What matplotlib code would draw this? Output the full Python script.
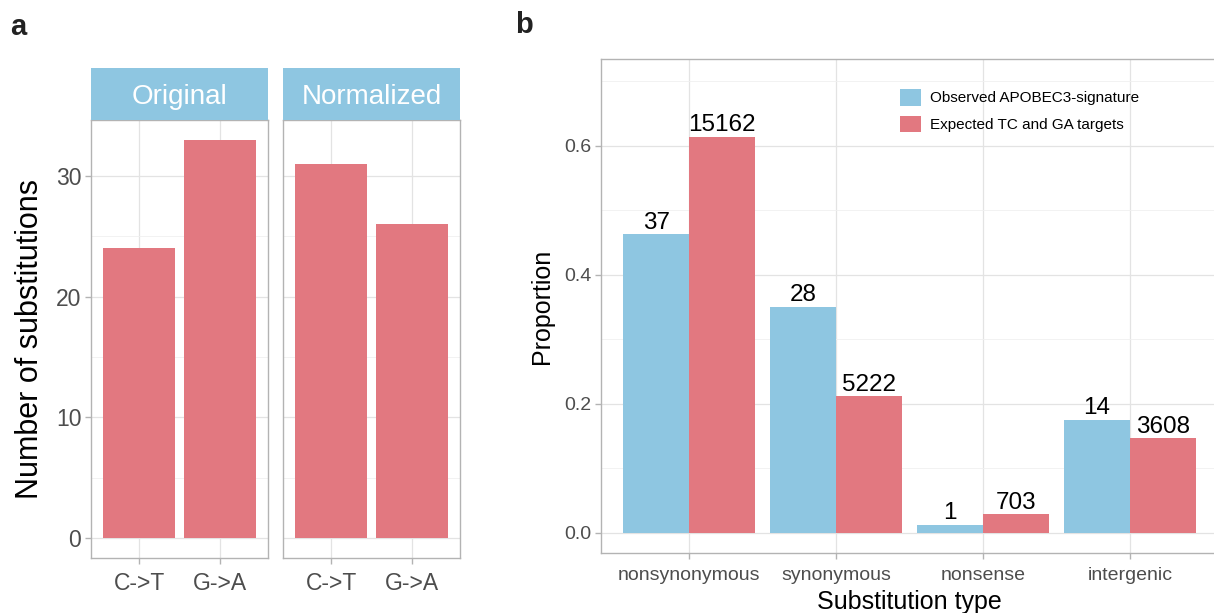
import matplotlib
matplotlib.use("Agg")
import matplotlib.pyplot as plt
from matplotlib.patches import Patch
import numpy as np

plt.rcParams['font.family'] = ['Liberation Sans', 'DejaVu Sans']

# panel a data
facets = ["Original", "Normalized"]
subst = ["C->T", "G->A"]
counts_a = {"Original": [24, 33], "Normalized": [31, 26]}

# panel b data
sub_types = ["nonsynonymous", "synonymous", "nonsense", "intergenic"]
observed_n = [37, 28, 1, 14]
expected_n = [15162, 5222, 703, 3608]
observed_p = np.array(observed_n) / sum(observed_n)
expected_p = np.array(expected_n) / sum(expected_n)
legend_labels = ["Observed APOBEC3-signature", "Expected TC and GA targets"]

BLUE = "#8EC6E1"
RED = "#E27880"
GRID = "#E3E3E3"
GRID_MINOR = "#F0F0F0"
BORDER = "#B3B3B3"
TICKTXT = "#4D4D4D"

W, H = 1214, 613
fig = plt.figure(figsize=(W / 100, H / 100), dpi=100)


def box(x0, y0, x1, y1):
    return [x0 / W, 1 - y1 / H, (x1 - x0) / W, (y1 - y0) / H]


def style(ax, tick_size):
    for s in ax.spines.values():
        s.set_color(BORDER)
        s.set_linewidth(1.0)
    ax.set_axisbelow(True)
    ax.grid(which="major", color=GRID, linewidth=0.9)
    ax.grid(which="minor", axis="y", color=GRID_MINOR, linewidth=0.6)
    ax.tick_params(which="major", color=BORDER, length=4, width=1,
                   labelsize=tick_size, labelcolor=TICKTXT, pad=3)
    ax.tick_params(which="minor", length=0)


# ---- panel a ----
panel_x = [(91, 268), (283, 460)]
for i, name in enumerate(facets):
    x0, x1 = panel_x[i]
    ax = fig.add_axes(box(x0, 120, x1, 557.7))
    xs = np.arange(1, len(subst) + 1)
    ax.bar(xs, counts_a[name], width=0.9, color=RED)
    ax.set_xlim(0.4, 2.6)
    ax.set_ylim(-1.65, 34.65)
    ax.set_xticks(xs)
    ax.set_xticklabels(subst)
    ax.set_yticks([0, 10, 20, 30])
    ax.set_yticks([5, 15, 25], minor=True)
    style(ax, 16.5)
    ax.tick_params(axis="x", pad=6)
    if i == 0:
        ax.set_ylabel("Number of substitutions", fontsize=22, labelpad=8)
    else:
        ax.tick_params(axis="y", length=0, labelleft=False)
    sx = fig.add_axes(box(x0, 68, x1, 120))
    sx.set_facecolor(BLUE)
    sx.set_xticks([])
    sx.set_yticks([])
    for s in sx.spines.values():
        s.set_visible(False)
    sx.text(0.5, 0.45, name, color="white", fontsize=20,
            ha="center", va="center", transform=sx.transAxes)

# ---- panel b ----
axb = fig.add_axes(box(601, 59, 1218, 553.3))
xs = np.arange(1, len(sub_types) + 1)
w = 0.45
b1 = axb.bar(xs - w / 2, observed_p, width=w, color=BLUE)
b2 = axb.bar(xs + w / 2, expected_p, width=w, color=RED)
for bars, ns in ((b1, observed_n), (b2, expected_n)):
    for rect, n in zip(bars, ns):
        axb.annotate(str(n), (rect.get_x() + rect.get_width() / 2, rect.get_height()),
                     xytext=(0, 4), textcoords="offset points",
                     ha="center", va="baseline", fontsize=17.5)
axb.set_xlim(0.4, 4.6)
axb.set_ylim(-0.032, 0.7346)
axb.set_xticks(xs)
axb.set_xticklabels(sub_types)
axb.set_yticks([0.0, 0.2, 0.4, 0.6])
axb.set_yticklabels(["0.0", "0.2", "0.4", "0.6"])
axb.set_yticks([0.1, 0.3, 0.5, 0.7], minor=True)
style(axb, 14)
axb.tick_params(axis="x", pad=6)
axb.set_xlabel("Substitution type", fontsize=18, labelpad=4)
axb.set_ylabel("Proportion", fontsize=18, labelpad=7)

handles = [Patch(facecolor=BLUE, edgecolor="none"), Patch(facecolor=RED, edgecolor="none")]
fig.legend(handles, legend_labels, loc="upper left",
           bbox_to_anchor=(900 / W, 1 - 89 / H), bbox_transform=fig.transFigure,
           frameon=False, fontsize=11, borderpad=0, borderaxespad=0,
           handlelength=1.37, handleheight=1.3, handletextpad=0.6,
           labelspacing=0.65)

# panel tags
fig.text(10 / W, 1 - 27 / H, "a", fontsize=21, fontweight="bold", va="center", color="#222222")
fig.text(515 / W, 1 - 25 / H, "b", fontsize=21, fontweight="bold", va="center", color="#222222")

fig.savefig("out.png", dpi=100)
